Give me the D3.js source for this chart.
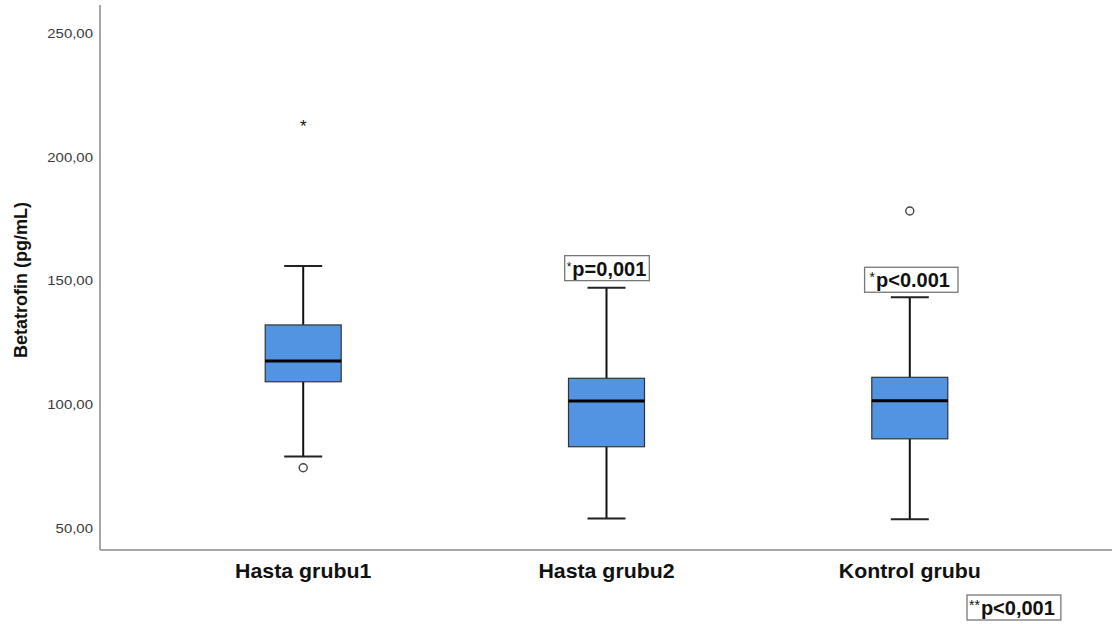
<!DOCTYPE html>
<html>
<head>
<meta charset="utf-8">
<script src="https://cdn.jsdelivr.net/npm/d3@7"></script>
<style>
  html, body { margin: 0; padding: 0; background: #fff; }
  svg { display: block; }
</style>
</head>
<body>
<svg id="chart" width="1112" height="624"></svg>
<script>
// Box plot summaries for Betatrofin (pg/mL) by group
const groups = ["Hasta grubu1", "Hasta grubu2", "Kontrol grubu"];
const whiskerLow = [78.9, 53.9, 53.5];
const q1 = [109.2, 82.9, 86.1];
const median = [117.6, 101.4, 101.5];
const q3 = [132.2, 110.6, 111.0];
const whiskerHigh = [156.1, 147.3, 143.4];
// outliers: group index, value, kind ("circle" = outlier, "star" = extreme)
const outlierGroup = [0, 0, 2];
const outlierValue = [74.4, 213.6, 178.3];
const outlierKind = ["circle", "star", "circle"];
const yTicks = [50, 100, 150, 200, 250];
// per-group significance notes
const noteGroup = [1, 2];
const noteStar = ["*", "*"];
const noteText = ["p=0,001", "p<0.001"];
const overallStar = "**";
const overallText = "p<0,001";

const svg = d3.select("#chart");
const plotLeft = 100, plotRight = 1113, plotTop = 5, plotBottom = 550;

const y = d3.scaleLinear().domain([41.1, 261.7]).range([plotBottom, plotTop]);
const x = d3.scalePoint().domain(groups).range([plotLeft, plotRight]).padding(0.67);

const font = "'Liberation Sans', Arial, sans-serif";

// y tick labels (slightly widened glyphs)
svg.append("g").selectAll("text").data(yTicks).join("text")
  .attr("transform", d => `translate(93,${y(d) + 4.5}) scale(1.15,1)`)
  .attr("text-anchor", "end")
  .attr("font-family", font).attr("font-size", 13).attr("fill", "#3a3a3a")
  .text(d => d3.format(".2f")(d).replace(".", ","));

// axes lines
svg.append("line").attr("x1", plotLeft).attr("x2", plotLeft).attr("y1", plotTop).attr("y2", plotBottom)
  .attr("stroke", "#8a8a8a").attr("stroke-width", 1.5);
svg.append("line").attr("x1", plotLeft).attr("x2", 1112).attr("y1", plotBottom).attr("y2", plotBottom)
  .attr("stroke", "#8a8a8a").attr("stroke-width", 1.5);

// y axis title
svg.append("text")
  .attr("transform", `translate(27,280) rotate(-90)`)
  .attr("text-anchor", "middle")
  .attr("font-family", font).attr("font-size", 18).attr("font-weight", "bold")
  .attr("fill", "#111")
  .text("Betatrofin (pg/mL)");

// x category labels
svg.append("g").selectAll("text").data(groups).join("text")
  .attr("transform", d => `translate(${x(d)},578) scale(1.04,1)`)
  .attr("text-anchor", "middle")
  .attr("font-family", font).attr("font-size", 20.5).attr("font-weight", "bold")
  .attr("fill", "#111")
  .text(d => d);

const boxW = 76, capW = 38;
const boxes = svg.append("g").selectAll("g").data(groups).join("g");

// whiskers
boxes.append("line")
  .attr("x1", d => x(d)).attr("x2", d => x(d))
  .attr("y1", (d, i) => y(whiskerHigh[i])).attr("y2", (d, i) => y(q3[i]))
  .attr("stroke", "#111").attr("stroke-width", 2);
boxes.append("line")
  .attr("x1", d => x(d)).attr("x2", d => x(d))
  .attr("y1", (d, i) => y(q1[i])).attr("y2", (d, i) => y(whiskerLow[i]))
  .attr("stroke", "#111").attr("stroke-width", 2);
boxes.append("line")
  .attr("x1", d => x(d) - capW / 2).attr("x2", d => x(d) + capW / 2)
  .attr("y1", (d, i) => y(whiskerHigh[i])).attr("y2", (d, i) => y(whiskerHigh[i]))
  .attr("stroke", "#222").attr("stroke-width", 2);
boxes.append("line")
  .attr("x1", d => x(d) - capW / 2).attr("x2", d => x(d) + capW / 2)
  .attr("y1", (d, i) => y(whiskerLow[i])).attr("y2", (d, i) => y(whiskerLow[i]))
  .attr("stroke", "#222").attr("stroke-width", 2);

// boxes
boxes.append("rect")
  .attr("x", d => x(d) - boxW / 2).attr("width", boxW)
  .attr("y", (d, i) => y(q3[i])).attr("height", (d, i) => y(q1[i]) - y(q3[i]))
  .attr("fill", "#5294e2").attr("stroke", "#333").attr("stroke-width", 1.2);

// medians
boxes.append("line")
  .attr("x1", d => x(d) - boxW / 2).attr("x2", d => x(d) + boxW / 2)
  .attr("y1", (d, i) => y(median[i])).attr("y2", (d, i) => y(median[i]))
  .attr("stroke", "#000").attr("stroke-width", 3);

// outliers
outlierValue.forEach((v, i) => {
  const cx = x(groups[outlierGroup[i]]), cy = y(v);
  if (outlierKind[i] === "circle") {
    svg.append("circle").attr("cx", cx).attr("cy", cy).attr("r", 4)
      .attr("fill", "#fff").attr("stroke", "#444").attr("stroke-width", 1.4);
  } else {
    svg.append("text").attr("x", cx).attr("y", cy + 8)
      .attr("text-anchor", "middle")
      .attr("font-family", font).attr("font-size", 17).attr("fill", "#111")
      .text("*");
  }
});

// significance note boxes
function note(cx, boxTop, star, text, starSize, padL, padR, fixedLeft) {
  const g = svg.append("g");
  const t = g.append("text").attr("y", boxTop + 20)
    .attr("font-family", font).attr("fill", "#111");
  t.append("tspan").attr("font-size", starSize).attr("baseline-shift", "5")
    .text(star);
  t.append("tspan").attr("font-size", 20).attr("font-weight", "bold").attr("baseline-shift", "0")
    .attr("dx", 1)
    .text(text);
  const bb = t.node().getBBox();
  const x0 = fixedLeft !== undefined ? fixedLeft + padL : cx - bb.width / 2;
  t.attr("x", x0);
  const bb2 = t.node().getBBox();
  g.insert("rect", "text")
    .attr("x", bb2.x - padL).attr("y", boxTop)
    .attr("width", bb2.width + padL + padR).attr("height", 25)
    .attr("fill", "#fff").attr("stroke", "#777").attr("stroke-width", 1.3);
}
note(x(groups[noteGroup[0]]), y(whiskerHigh[noteGroup[0]]) - 32, noteStar[0], noteText[0], 12, 2, 3);
note(x(groups[noteGroup[1]]), y(whiskerHigh[noteGroup[1]]) - 30, noteStar[1], noteText[1], 14, 5, 8);
note(null, 595, overallStar, overallText, 14, 2, 6, 967);
</script>
</body>
</html>
